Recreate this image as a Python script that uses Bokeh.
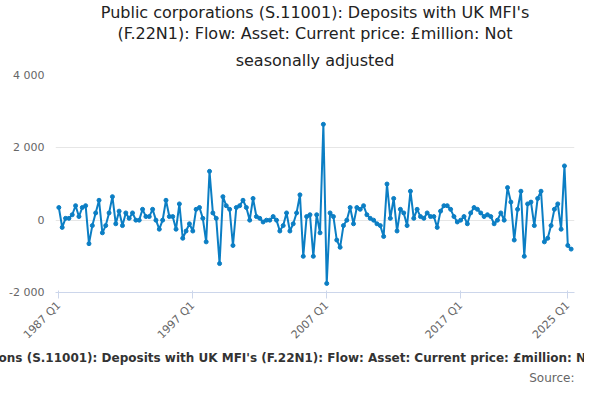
from bokeh.plotting import figure
from bokeh.models import Title, FixedTicker, CustomJSTickFormatter
from bokeh.embed import file_html
from bokeh.resources import INLINE

start_year = 1987
values = [
    350, -200, 50, 50,
    150, 400, 100, 350,
    400, -650, -150, 200,
    550, -350, -150, 200,
    650, -100, 250, -150,
    200, 50, 200, 0,
    0, 300, 100, 100,
    300, 0, -250, 0,
    550, 100, 100, -250,
    450, -500, -300, -100,
    -300, 300, 350, 50,
    -600, 1350, 200, 50,
    -1200, 650, 400, 300,
    -700, 350, 400, 550,
    350, 0, 600, 100,
    50, -50, 0, 0,
    100, 0, -300, -150,
    200, -300, -100, 200,
    700, -1000, 100, 150,
    -1000, 150, -350, 2650,
    -1750, 200, 100, -550,
    -750, -150, 0, 350,
    -100, 350, 300, 400,
    150, 50, 0, -100,
    -150, -450, 1000, 50,
    600, -300, 300, 200,
    -150, 800, 50, 300,
    100, 50, 200, 100,
    100, -200, 250, 400,
    400, 300, 100, -50,
    0, 100, -100, 200,
    350, 300, 200, 100,
    150, 100, -100, 0,
    200, 0, 900, 500,
    -550, 300, 800, -1000,
    450, 500, -150, 600,
    800, -600, -500, -150,
    300, 450, -250, 1500,
    -700, -800,
]
tick_labels = ["1987 Q1", "1997 Q1", "2007 Q1", "2017 Q1", "2025 Q1"]
x = list(range(len(values)))
tick_pos = [(int(t[:4]) - start_year) * 4 for t in tick_labels]

p = figure(width=584, height=384, output_backend="svg", toolbar_location=None,
           y_range=(-2000, 4000), x_range=(-1, len(values)))
color = "#0b7ec4"
p.line(x, values, line_color=color, line_width=2)
p.scatter(x, values, size=4, color=color)

p.add_layout(Title(text="Source:", align="right", text_font_size="12px",
                   text_font_style="normal", text_font="DejaVu Sans",
                   text_color="#666666", standoff=0), "below")

lines = ["seasonally adjusted", "(F.22N1): Flow: Asset: Current price: £million: Not",
         "Public corporations (S.11001): Deposits with UK MFI's"]
for i, t in enumerate(lines):
    p.add_layout(Title(text=t, align="center", text_font_size="16px",
                       text_font_style="normal", text_font="DejaVu Sans",
                       text_color="#222222", standoff=0 if i else 12,
                       offset=0), "above")

p.xaxis.ticker = FixedTicker(ticks=tick_pos)
p.xaxis.major_label_overrides = {k: v for k, v in zip(tick_pos, tick_labels)}
p.xaxis.major_label_orientation = 0.785
p.xaxis.axis_label = "Public corporations (S.11001): Deposits with UK MFI's (F.22N1): Flow: Asset: Current price: £million: Not seasonally adjusted"
p.xaxis.axis_label_text_font_style = "bold"
p.xaxis.axis_label_text_font = "DejaVu Sans"
p.xaxis.axis_label_text_font_size = "12px"
p.xaxis.axis_label_text_color = "#333333"
p.xaxis.axis_label_standoff = 2
p.yaxis.ticker = FixedTicker(ticks=[-2000, 0, 2000, 4000])
p.yaxis.formatter = CustomJSTickFormatter(code="return tick.toString().replace(/\\B(?=(\\d{3})+(?!\\d))/g, ' ');")
for ax in (p.xaxis, p.yaxis):
    ax.major_label_text_color = "#666666"
    ax.major_label_text_font_size = "11px"
    ax.major_label_text_font = "DejaVu Sans"
p.yaxis.axis_line_color = None
p.yaxis.major_tick_line_color = None
p.yaxis.minor_tick_line_color = None
p.xaxis.minor_tick_line_color = None
p.xaxis.axis_line_color = "#ccd6eb"
p.xaxis.major_tick_line_color = "#ccd6eb"
p.xgrid.grid_line_color = None
p.ygrid.grid_line_color = "#e6e6e6"
p.outline_line_color = None
p.min_border_left = 55
p.min_border_right = 10
p.min_border_top = 4
p.min_border_bottom = 0

open("out.html", "w").write(file_html(p, INLINE))
